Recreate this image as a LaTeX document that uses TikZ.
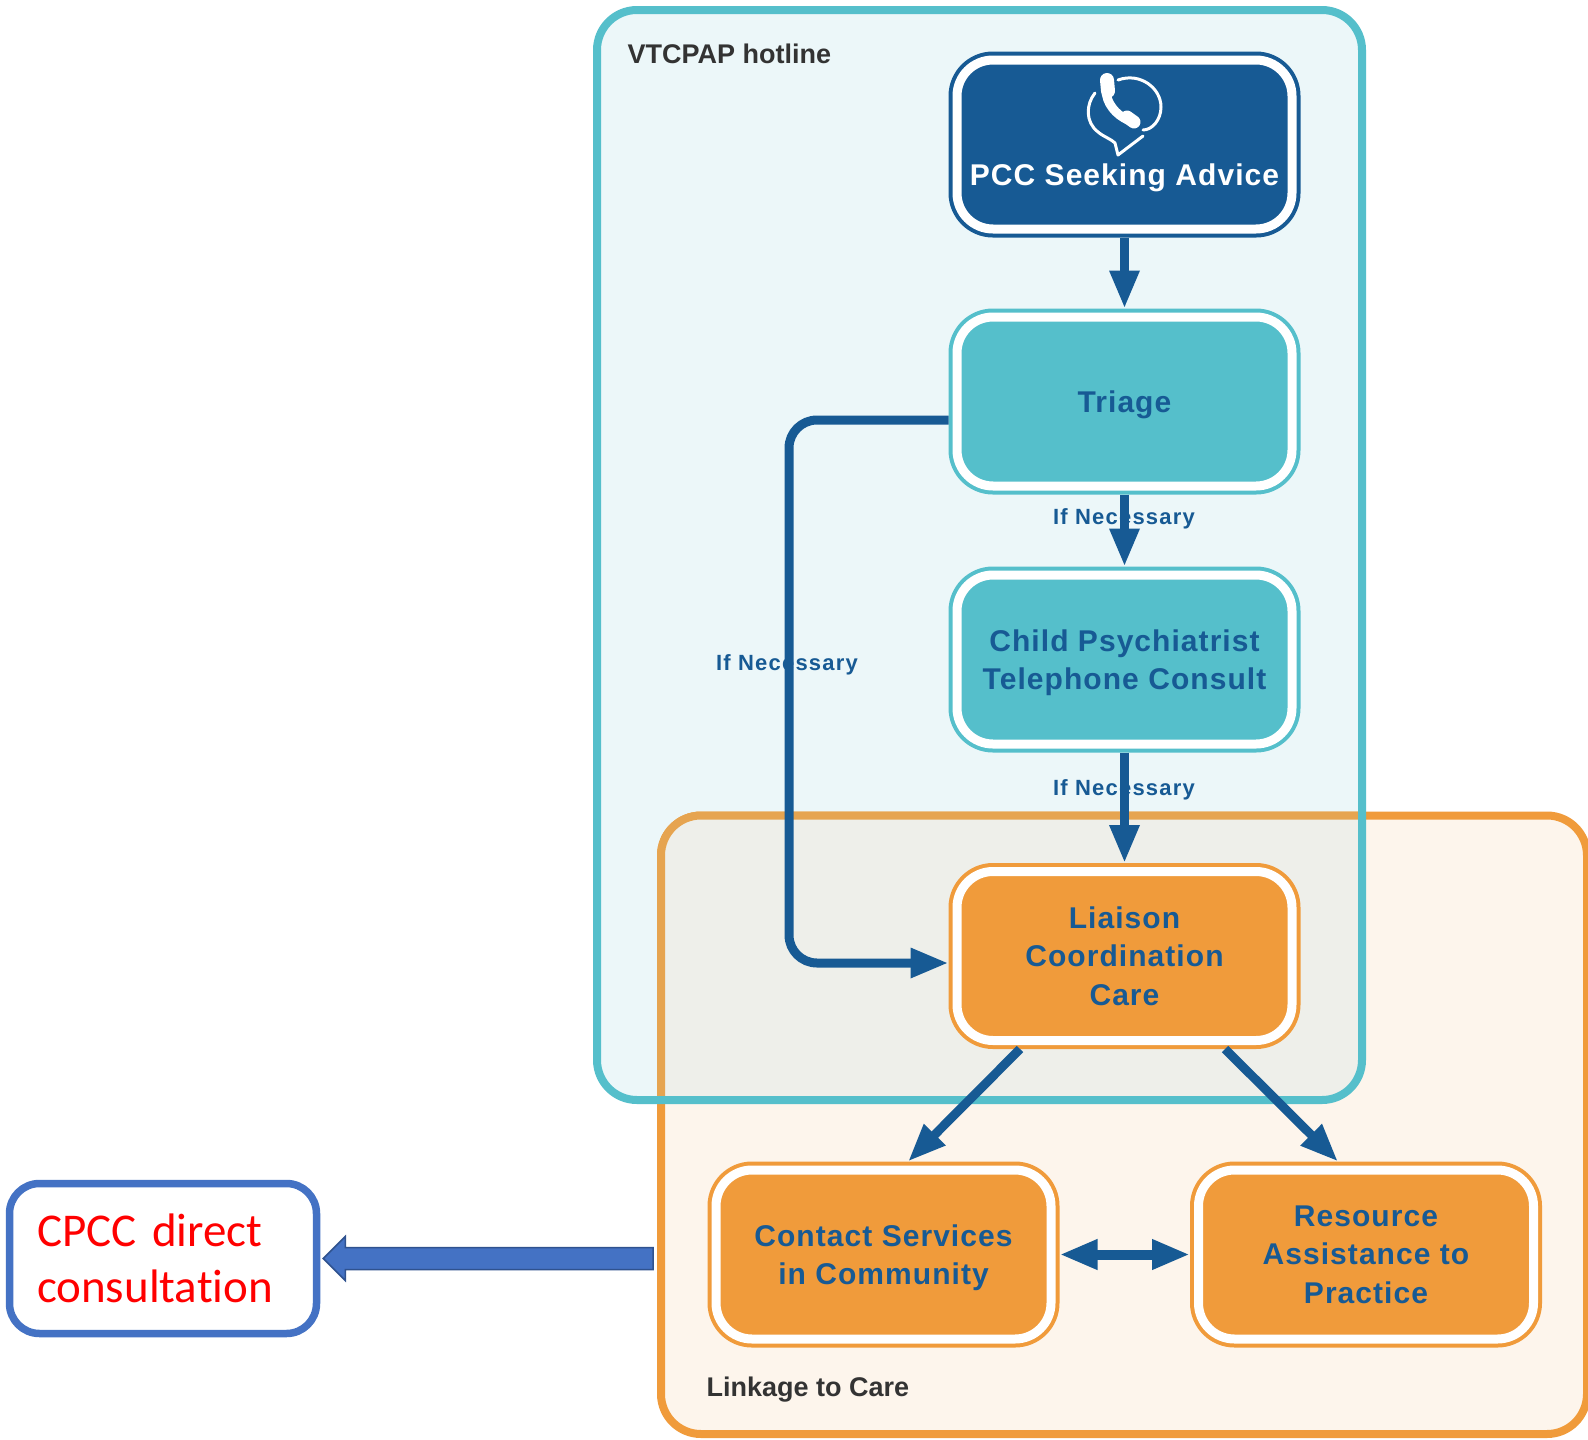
\documentclass[tikz,border=0pt]{standalone}
\usepackage{fontspec}
\setmainfont{Liberation Sans}
\newfontfamily\boxfont{Liberation Sans}[LetterSpace=3.5]
\newfontfamily\smallfont{Liberation Sans}[LetterSpace=5.5]
\newfontfamily\cpccfont{Carlito}[Ligatures=NoCommon]
\usetikzlibrary{arrows.meta}
\definecolor{navy}{HTML}{175A94}
\definecolor{teal1}{HTML}{55BFCB}
\definecolor{orange1}{HTML}{F09B3B}
\definecolor{orangemix}{HTML}{E6A450}
\definecolor{panelteal}{HTML}{ECF7F9}
\definecolor{panelorange}{HTML}{FDF5EC}
\definecolor{panelmix}{HTML}{EEEFEA}
\definecolor{cpccblue}{HTML}{4472C4}
\definecolor{cpccdark}{HTML}{2F528F}
\definecolor{labelgrey}{HTML}{333333}
\tikzset{
  x=1pt,y=-1pt,
  flowbox/.style={rectangle,rounded corners=36pt,minimum width=335pt,minimum height=169pt,
    line width=4pt,double=white,double distance=9pt,outer sep=8.5pt,inner sep=0pt,
    align=center,text=navy,text depth=0pt,font=\boxfont\bfseries\fontsize{30}{38.5}\selectfont},
  navybox/.style={flowbox,draw=navy,fill=navy,text=white},
  tealbox/.style={flowbox,draw=teal1,fill=teal1},
  orangebox/.style={flowbox,draw=orange1,fill=orange1},
  flowarrow/.style={draw=navy,line width=9pt,
    -{Triangle[length=38pt,width=28pt,fill=navy]}},
  bothways/.style={draw=navy,line width=10pt,
    {Triangle[length=38pt,width=28pt,fill=navy]}-{Triangle[length=38pt,width=28pt,fill=navy]}},
  iflabel/.style={anchor=base,text=navy,font=\smallfont\bfseries\fontsize{22}{26}\selectfont},
  panellabel/.style={anchor=base west,text=labelgrey,font=\bfseries\fontsize{27}{30}\selectfont},
}
\newcommand{\tealshape}{(597,10) rectangle (1362,1100)}
\newcommand{\orangeshape}{(661,815.5) rectangle (1587,1434)}
\begin{document}
\begin{tikzpicture}
\useasboundingbox (0,0) rectangle (1588,1440);
\fill[white] (0,0) rectangle (1588,1440);
% panels
\fill[panelteal,rounded corners=40pt] \tealshape;
\draw[draw=orange1,fill=panelorange,line width=8pt,rounded corners=40pt] \orangeshape;
\begin{scope}
  \clip[rounded corners=40pt] \tealshape;
  \draw[draw=orangemix,fill=panelmix,line width=8pt,rounded corners=40pt] \orangeshape;
\end{scope}
\draw[draw=teal1,line width=8pt,rounded corners=40pt] \tealshape;
% nodes
\node[navybox] (pcc) at (1124.5,144.5) {\smash{\raisebox{-40.5pt}{PCC Seeking Advice}}};
\node[tealbox] (triage) at (1124.5,401.5) {Triage};
\node[tealbox] (child) at (1124.5,659.5) {Child Psychiatrist\\Telephone Consult};
\node[orangebox] (liaison) at (1124.5,956) {Liaison\\Coordination\\Care};
\node[orangebox] (contact) at (883.5,1254.5) {Contact Services\\in Community};
\node[orangebox] (resource) at (1366,1254.5) {Resource\\Assistance to\\Practice};
\node[draw=cpccblue,fill=white,line width=7.5pt,rounded corners=30pt,minimum width=307pt,minimum height=150pt,
  align=left,text=red,inner xsep=0pt,text width=252pt,font=\cpccfont\fontsize{47}{56}\selectfont] (cpcc)
  at (163,1258.5) {CPCC direct\\consultation};
% phone icon
\begin{scope}[draw=white,line cap=round,line join=round]
  \draw[line width=3pt] (1118,80) .. controls (1140,72) and (1161,88) .. (1161,107)
     .. controls (1161,120) and (1152,130) .. (1143,130);
  \draw[line width=3pt] (1095,93) .. controls (1086,104) and (1085,122) .. (1098,132)
     .. controls (1104,137) and (1111,139) .. (1115,143) -- (1118,155) -- (1143,136);
  \draw[line width=9pt] (1106,90) .. controls (1106,103) and (1116,115) .. (1128,120);
  \draw[line width=14pt] (1107,80) -- (1108,91);
  \draw[line width=13pt] (1127,117) -- (1134,122);
\end{scope}
% connectors
\draw[flowarrow] (pcc.south) -- (triage.north);
\draw[flowarrow] (triage.south) -- (child.north);
\draw[flowarrow] (child.south) -- (liaison.north);
\coordinate (elbowtop) at (789,420);
\coordinate (elbowbottom) at (789,963);
\draw[flowarrow,rounded corners=28pt] ([yshift=-18.5pt]triage.west) -- (elbowtop) -- (elbowbottom) -- ([yshift=-7pt]liaison.west);
\draw[flowarrow] ([xshift=-104.5pt]liaison.south) -- ([xshift=24.5pt]contact.north);
\draw[flowarrow] ([xshift=100.5pt]liaison.south) -- ([xshift=-28pt]resource.north);
\draw[bothways] (contact.east) -- (resource.west);
\coordinate (blocktail) at (653,1258.5);
\draw[draw=cpccdark,fill=cpccblue,line width=1.5pt,line join=miter]
  ([xshift=3pt]cpcc.east) -- ++(22,-22) -- ++(0,11) -- (blocktail |- {0,1247.5}) -- (blocktail |- {0,1269.5}) -- ([xshift=25pt,yshift=-11pt]cpcc.east) -- ++(0,11) -- cycle;
% labels
\node[iflabel] (if1) at (1124,524) {If Necessary};
\node[iflabel] (if2) at (1124,795) {If Necessary};
\node[iflabel] (if3) at (787,670) {If Necessary};
\node[panellabel] (vtcpap) at (624,63) {VTCPAP hotline};
\node[panellabel] (linkage) at (703,1396) {Linkage to Care};
\end{tikzpicture}
\end{document}
